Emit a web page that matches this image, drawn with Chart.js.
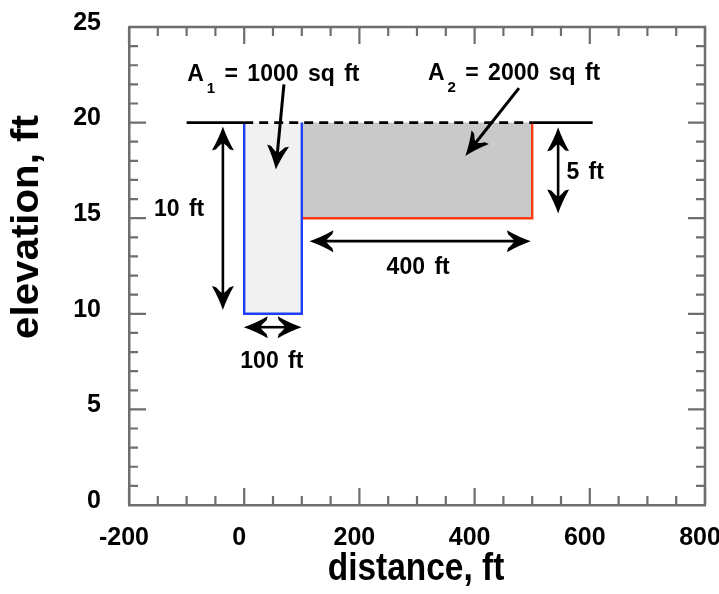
<!DOCTYPE html>
<html>
<head>
<meta charset="utf-8">
<script src="https://cdn.jsdelivr.net/npm/chart.js@4.4.0/dist/chart.umd.min.js"></script>
<style>
  html, body { margin: 0; padding: 0; background: #fff; }
</style>
</head>
<body>
<canvas id="chart" width="719" height="594"></canvas>
<script>
// axis ticks
const xTicks = [-200, 0, 200, 400, 600, 800];
const yTicks = [0, 5, 10, 15, 20, 25];

// cross-section outline (distance ft, elevation ft)
const trenchX = [0, 0, 100, 100];
const trenchY = [20, 10, 10, 20];
const shelfX = [100, 100, 500, 500];
const shelfY = [20, 15, 15, 20];
const shelfEdgeX = [100, 500, 500];
const shelfEdgeY = [15, 15, 20];
const groundLeftX = [-100, 0];
const groundRightX = [500, 605];
const surfaceX = [0, 500];
const surfaceY = 20;

// dimension arrows: x1, y1, x2, y2 (heads at both ends)
const dimArrows = [
  [-37, 19.75, -37, 10.25],
  [1, 9.3, 98, 9.3],
  [115, 13.8, 496, 13.8],
  [545, 19.7, 545, 15.3]
];
const dimLabels = ['10 ft', '100 ft', '400 ft', '5 ft'];
const dimLabelX = [-113, 48, 302, 592];
const dimLabelY = [15.45, 7.5, 12.4, 17.4];

// area callouts: arrow from text to shape
const areaSubs = ['1', '2'];
const areaValues = ['1000', '2000'];
const areaTextX = [-99, 319];
const areaTextY = [22.15, 22.25];
const calloutArrows = [
  [69, 22.0, 55, 17.6],
  [477, 21.8, 385, 18.3]
];

const toPts = (xs, ys) => xs.map((x, i) => ({ x: x, y: Array.isArray(ys) ? ys[i] : ys }));

const AXIS_GREY = '#6e6e6e';
const FONT = '"Liberation Sans", Arial, Helvetica, sans-serif';
const HEAD = 23;

function arrowHead(ctx, x, y, ang) {
  const L = HEAD, W = 11;
  ctx.save();
  ctx.translate(x, y);
  ctx.rotate(ang);
  ctx.beginPath();
  ctx.moveTo(1, 0);
  ctx.quadraticCurveTo(-L * 0.45, W * 0.35, -L, W);
  ctx.lineTo(-L * 0.95, W * 0.62);
  ctx.quadraticCurveTo(-L * 0.72, W * 0.2, -L * 0.68, 0);
  ctx.quadraticCurveTo(-L * 0.72, -W * 0.2, -L * 0.95, -W * 0.62);
  ctx.lineTo(-L, -W);
  ctx.quadraticCurveTo(-L * 0.45, -W * 0.35, 1, 0);
  ctx.closePath();
  ctx.fill();
  ctx.restore();
}

function drawArrow(ctx, x1, y1, x2, y2, both) {
  const ang = Math.atan2(y2 - y1, x2 - x1);
  const back = HEAD * 0.6;
  const sx = both ? x1 + Math.cos(ang) * back : x1;
  const sy = both ? y1 + Math.sin(ang) * back : y1;
  ctx.beginPath();
  ctx.moveTo(sx, sy);
  ctx.lineTo(x2 - Math.cos(ang) * back, y2 - Math.sin(ang) * back);
  ctx.stroke();
  arrowHead(ctx, x2, y2, ang);
  if (both) arrowHead(ctx, x1, y1, ang + Math.PI);
}

const framePlugin = {
  id: 'frame',
  afterDraw(chart) {
    const ctx = chart.ctx;
    const a = chart.chartArea;
    const xs = chart.scales.x, ys = chart.scales.y;
    ctx.save();
    ctx.strokeStyle = AXIS_GREY;
    ctx.lineWidth = 2.5;
    ctx.beginPath();
    ctx.moveTo(a.left, a.top); ctx.lineTo(a.right, a.top); ctx.lineTo(a.right, a.bottom);
    ctx.stroke();
    ctx.lineWidth = 2.2;
    ctx.beginPath();
    for (let v = -200; v <= 800; v += 50) {
      const px = xs.getPixelForValue(v);
      const len = xTicks.includes(v) ? 17 : 9;
      ctx.moveTo(px, a.bottom); ctx.lineTo(px, a.bottom - len);
      ctx.moveTo(px, a.top); ctx.lineTo(px, a.top + len);
    }
    for (let v = 0; v <= 25; v += 1) {
      const py = ys.getPixelForValue(v);
      const len = yTicks.includes(v) ? 17 : 9;
      ctx.moveTo(a.left, py); ctx.lineTo(a.left + len, py);
      ctx.moveTo(a.right, py); ctx.lineTo(a.right - len, py);
    }
    ctx.stroke();

    // axis titles
    ctx.fillStyle = '#000';
    ctx.font = 'bold 38px ' + FONT;
    ctx.textAlign = 'center';
    ctx.textBaseline = 'alphabetic';
    ctx.save();
    ctx.translate((a.left + a.right) / 2 - 1, 580);
    ctx.scale(0.88, 1);
    ctx.fillText('distance, ft', 0, 0);
    ctx.restore();
    ctx.save();
    ctx.translate(38, 227);
    ctx.rotate(-Math.PI / 2);
    ctx.scale(1.06, 1);
    ctx.fillText('elevation, ft', 0, 0);
    ctx.restore();
    ctx.restore();
  }
};

const notesPlugin = {
  id: 'notes',
  afterDatasetsDraw(chart) {
    const ctx = chart.ctx;
    const xs = chart.scales.x, ys = chart.scales.y;
    const X = v => xs.getPixelForValue(v), Y = v => ys.getPixelForValue(v);
    ctx.save();
    ctx.strokeStyle = '#000';
    ctx.fillStyle = '#000';
    ctx.lineWidth = 2.6;
    dimArrows.forEach(d => drawArrow(ctx, X(d[0]), Y(d[1]), X(d[2]), Y(d[3]), true));
    ctx.lineWidth = 3;
    calloutArrows.forEach(d => drawArrow(ctx, X(d[0]), Y(d[1]), X(d[2]), Y(d[3]), false));

    ctx.font = 'bold 23px ' + FONT;
    ctx.textAlign = 'center';
    ctx.textBaseline = 'middle';
    if ('wordSpacing' in ctx) ctx.wordSpacing = '3px';
    dimLabels.forEach((t, i) => ctx.fillText(t, X(dimLabelX[i]), Y(dimLabelY[i])));

    ctx.textAlign = 'left';
    ctx.textBaseline = 'alphabetic';
    areaSubs.forEach((s, i) => {
      let x = X(areaTextX[i]);
      const y = Y(areaTextY[i]);
      ctx.font = 'bold 23px ' + FONT;
      ctx.fillText('A', x, y);
      x += ctx.measureText('A').width + 3;
      ctx.font = 'bold 15px ' + FONT;
      ctx.fillText(s, x, y + 12);
      x += ctx.measureText(s).width;
      ctx.font = 'bold 23px ' + FONT;
      ctx.fillText(' = ' + areaValues[i] + ' sq ft', x, y);
    });
    ctx.restore();
  }
};

const line = (data, color, width, extra) => Object.assign({
  data: data, showLine: true, fill: false, pointRadius: 0,
  borderColor: color, borderWidth: width, tension: 0
}, extra || {});

new Chart(document.getElementById('chart'), {
  type: 'scatter',
  data: {
    datasets: [
      line(toPts(surfaceX, surfaceY), '#000', 2.6, { borderDash: [9, 6] }),
      line(toPts(groundLeftX, surfaceY), '#000', 2.6),
      line(toPts(groundRightX, surfaceY), '#000', 2.6),
      line(toPts(trenchX, trenchY), '#1f3df5', 2.4),
      line(toPts(shelfEdgeX, shelfEdgeY), '#ff3a10', 2.4),
      line(toPts(shelfX, shelfY), 'rgba(0,0,0,0)', 0, { fill: 'shape', backgroundColor: '#c9c9c9' }),
      line(toPts(trenchX, trenchY), 'rgba(0,0,0,0)', 0, { fill: 'shape', backgroundColor: '#f1f1f1' })
    ]
  },
  options: {
    responsive: false,
    animation: false,
    events: [],
    layout: { padding: { top: 27, right: 14, left: 0, bottom: 0 } },
    plugins: { legend: { display: false }, tooltip: { enabled: false } },
    scales: {
      x: {
        type: 'linear', min: -200, max: 800,
        afterBuildTicks: s => { s.ticks = xTicks.map(v => ({ value: v })); },
        afterFit: s => { s.height = 89; s.paddingLeft = 0; s.paddingRight = 0; },
        grid: { display: false, drawTicks: false },
        border: { display: true, color: AXIS_GREY, width: 2.5 },
        ticks: { color: '#000', padding: 18, labelOffset: -5, font: { family: FONT, size: 25, weight: 'bold' } }
      },
      y: {
        type: 'linear', min: 0, max: 25,
        afterBuildTicks: s => { s.ticks = yTicks.map(v => ({ value: v })); },
        afterFit: s => { s.width = 129; s.paddingTop = 0; s.paddingBottom = 0; },
        grid: { display: false, drawTicks: false },
        border: { display: true, color: AXIS_GREY, width: 2.5 },
        ticks: { color: '#000', padding: 28, labelOffset: -4, font: { family: FONT, size: 25, weight: 'bold' } }
      }
    }
  },
  plugins: [framePlugin, notesPlugin]
});
</script>
</body>
</html>
